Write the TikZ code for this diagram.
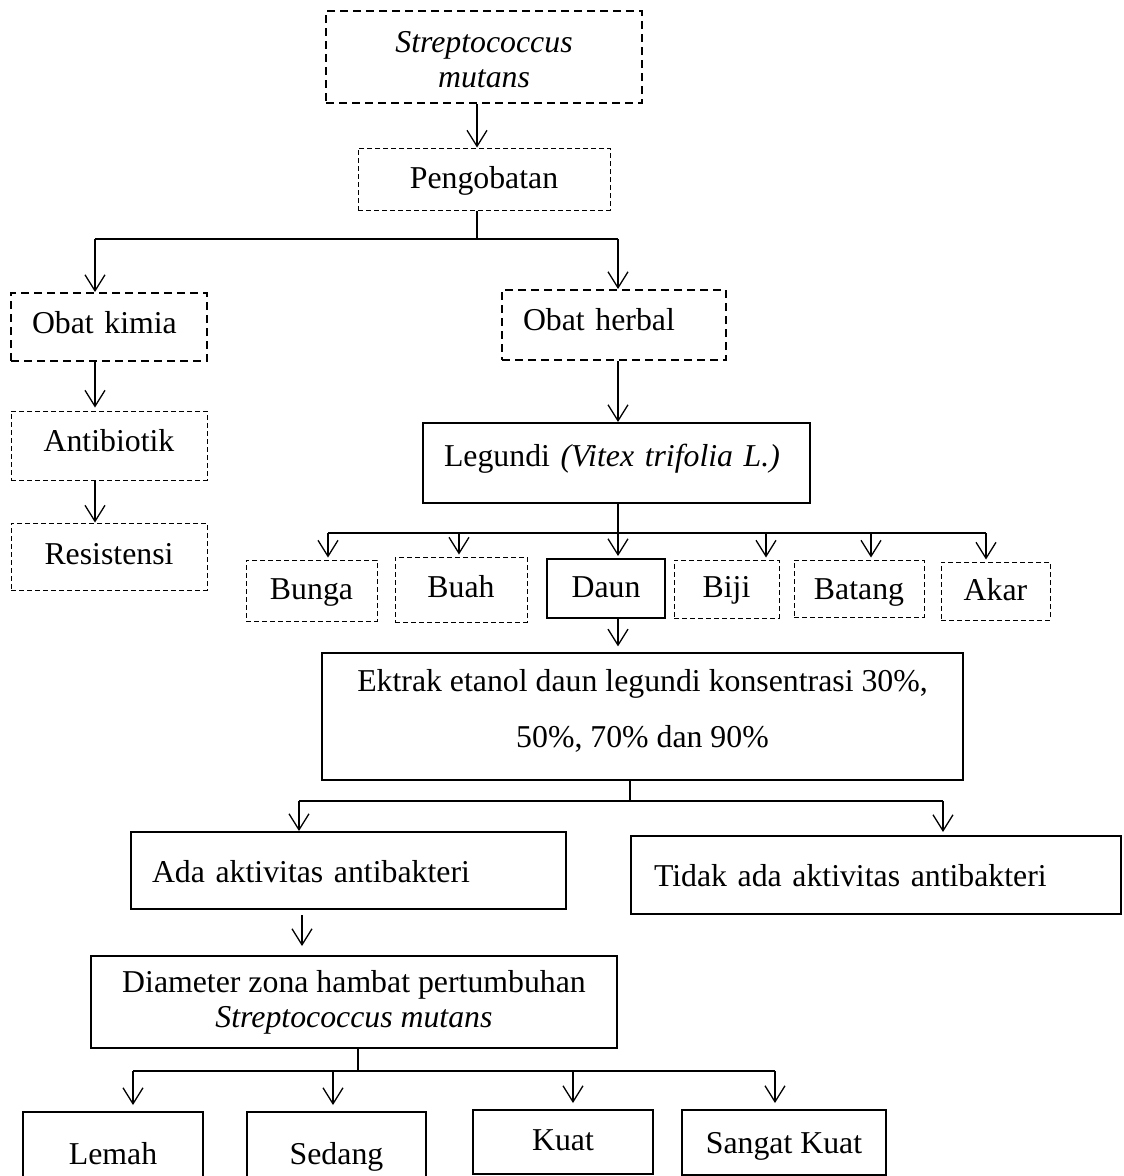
\documentclass[tikz,border=0pt]{standalone}
\usepackage{fontspec}
\setmainfont{Liberation Serif}
\usetikzlibrary{arrows.meta}
\newcommand*{\mytextstyle}{\fontsize{31.8}{35}\selectfont\color{black}}
\newcommand{\dropto}[3]{%
   % start coordinate, target node, gap above target
   \draw[myarrow, shorten >= #3] (#1) -- (#1 |- #2.north);
}
\tikzset{
   box/.style = {
      font      = \mytextstyle,
      inner sep = 0pt,
      align     = center
   },
   bolddash/.style = {box, draw, line width = 2pt, dash pattern = on 8pt off 5pt},
   thindash/.style = {box, draw, line width = 1pt, dash pattern = on 5pt off 3pt},
   solidbox/.style = {box, draw, line width = 2pt},
   textdrop/.code = {%
      \pgfmathsetmacro{\mytexth}{22+#1}%
      \pgfmathsetmacro{\mytextd}{22-#1}%
      \edef\mytmp{\noexpand\pgfkeysalso{text height=\mytexth pt, text depth=\mytextd pt}}\mytmp
   },
   padleft/.code 2 args = {%
      \pgfmathsetmacro{\mytextw}{#1-2*#2}%
      \edef\mytmp{\noexpand\pgfkeysalso{text width=\mytextw pt, inner xsep=#2pt, align=left}}\mytmp
   },
   myarrow/.style = {line width = 1.3pt, -{Straight Barb[length=16pt, width=20pt]}},
   myline/.style  = {line width = 2pt}
}

\begin{document}
\begin{tikzpicture}[x=1pt, y=-1pt]
   \useasboundingbox (0,0) rectangle (1124,1176);

   \node (strep) at (484,57) [
      bolddash,
      minimum width = 316pt, minimum height = 92pt,
      text height = 60pt, text depth = 0pt,
      font = {\fontsize{31.8}{35}\selectfont\itshape}
   ]{Streptococcus\\mutans};
   \node (peng) at (484,179) [
      thindash, minimum width = 252pt, minimum height = 62pt, textdrop = 9
   ]{Pengobatan};

   \node (kimia) at (109,327) [
      bolddash, minimum width = 196pt, minimum height = 68pt,
      padleft = {196}{21}, textdrop = 6
   ]{Obat kimia};
   \node (anti) at (109,445.5) [
      thindash, minimum width = 196pt, minimum height = 69pt, textdrop = 5.5
   ]{Antibiotik};
   \node (resist) at (109,556.5) [
      thindash, minimum width = 196pt, minimum height = 67pt, textdrop = 7.5
   ]{Resistensi};

   \node (herbal) at (614,325) [
      bolddash, minimum width = 224pt, minimum height = 70pt,
      padleft = {224}{21}, textdrop = 5
   ]{Obat herbal};
   \node (legundi) at (616.5,463) [
      solidbox, minimum width = 387pt, minimum height = 80pt,
      padleft = {387}{21}, textdrop = 3
   ]{Legundi \textit{(Vitex trifolia L.)}};

   \node (bunga)  at (311.5,590.5) [thindash, minimum width = 131pt, minimum height = 61pt, textdrop = 8.5]{Bunga};
   \node (buah)   at (461,589.5)   [thindash, minimum width = 132pt, minimum height = 65pt, textdrop = 7.5]{Buah};
   \node (daun)   at (606,588.5)   [solidbox, minimum width = 118pt, minimum height = 59pt, textdrop = 8.5]{Daun};
   \node (biji)   at (726.5,589)   [thindash, minimum width = 105pt, minimum height = 58pt, textdrop = 8]{Biji};
   \node (batang) at (859,588.5)   [thindash, minimum width = 130pt, minimum height = 57pt, textdrop = 10.5]{Batang};
   \node (akar)   at (995.5,591)   [thindash, minimum width = 109pt, minimum height = 58pt, textdrop = 9]{Akar};

   \node (ektrak) at (642.5,716.5) [
      solidbox, line width = 1.3pt,
      minimum width = 641pt, minimum height = 127pt,
      text depth = 17pt,
      font = {\fontsize{31.8}{56}\selectfont}
   ]{Ektrak etanol daun legundi konsentrasi 30\%,\\50\%, 70\% dan 90\%};

   \node (ada) at (348.5,870.5) [
      solidbox, minimum width = 435pt, minimum height = 77pt,
      padleft = {435}{21}, textdrop = 11.5
   ]{Ada aktivitas antibakteri};
   \node (tidak) at (876,875) [
      solidbox, minimum width = 490pt, minimum height = 78pt,
      padleft = {490}{23}, textdrop = 11
   ]{Tidak ada aktivitas antibakteri};

   \node (diam) at (354,1002) [
      solidbox, minimum width = 526pt, minimum height = 92pt
   ]{Diameter zona hambat pertumbuhan\\\textit{Streptococcus mutans}};

   \node (lemah)  at (113,1148)    [solidbox, minimum width = 180pt, minimum height = 72pt, textdrop = 16]{Lemah};
   \node (sedang) at (336.5,1148)  [solidbox, minimum width = 179pt, minimum height = 72pt, textdrop = 16]{Sedang};
   \node (kuat)   at (563,1142)    [solidbox, minimum width = 180pt, minimum height = 64pt, textdrop = 8]{Kuat};
   \node (sangat) at (784,1142.5)  [solidbox, minimum width = 204pt, minimum height = 65pt, textdrop = 10.5]{Sangat Kuat};

   % Pengobatan
   \coordinate (f1)  at (477,239);
   \coordinate (f1l) at (95,239);
   \coordinate (f1r) at (618,239);
   \draw[myarrow] (strep.south -| f1) -- (peng.north -| f1);
   \draw[myline] (peng.south -| f1) -- (f1);
   \draw[myline] (f1l) -- (f1r);
   \dropto{f1l}{kimia}{0pt}
   \dropto{f1r}{herbal}{0pt}
   \draw[myarrow, shorten >= 3pt] (kimia.south -| f1l) -- (anti.north -| f1l);
   \draw[myarrow] (anti.south -| f1l) -- (resist.north -| f1l);
   \draw[myarrow] (herbal.south -| f1r) -- (legundi.north -| f1r);

   % bagian tanaman
   \coordinate (f2) at (618,533);
   \draw[myline] (legundi.south -| f2) -- (f2);
   \foreach \part/\xpos in {bunga/328, buah/459, daun/618, biji/766, batang/871, akar/986}{
      \coordinate (f2-\part) at (\xpos,533);
      \dropto{f2-\part}{\part}{2pt}
   }
   \draw[myline] (f2-bunga) -- (f2-akar);
   \draw[myarrow, shorten >= 6pt] (daun.south -| f2) -- (ektrak.north -| f2);

   % hasil uji
   \coordinate (f3)  at (630,801);
   \coordinate (f3l) at (299,801);
   \coordinate (f3r) at (943,801);
   \draw[myline] (ektrak.south -| f3) -- (f3);
   \draw[myline] (f3l) -- (f3r);
   \dropto{f3l}{ada}{0pt}
   \dropto{f3r}{tidak}{3pt}
   \coordinate (f4) at (302,915);
   \dropto{f4}{diam}{9pt}

   % kategori zona hambat
   \coordinate (f5) at (358,1071);
   \draw[myline] (diam.south -| f5) -- (f5);
   \foreach \grade/\xpos in {lemah/133, sedang/333, kuat/573, sangat/775}{
      \coordinate (f5-\grade) at (\xpos,1071);
      \dropto{f5-\grade}{\grade}{6pt}
   }
   \draw[myline] (f5-lemah) -- (f5-sangat);
\end{tikzpicture}
\end{document}
